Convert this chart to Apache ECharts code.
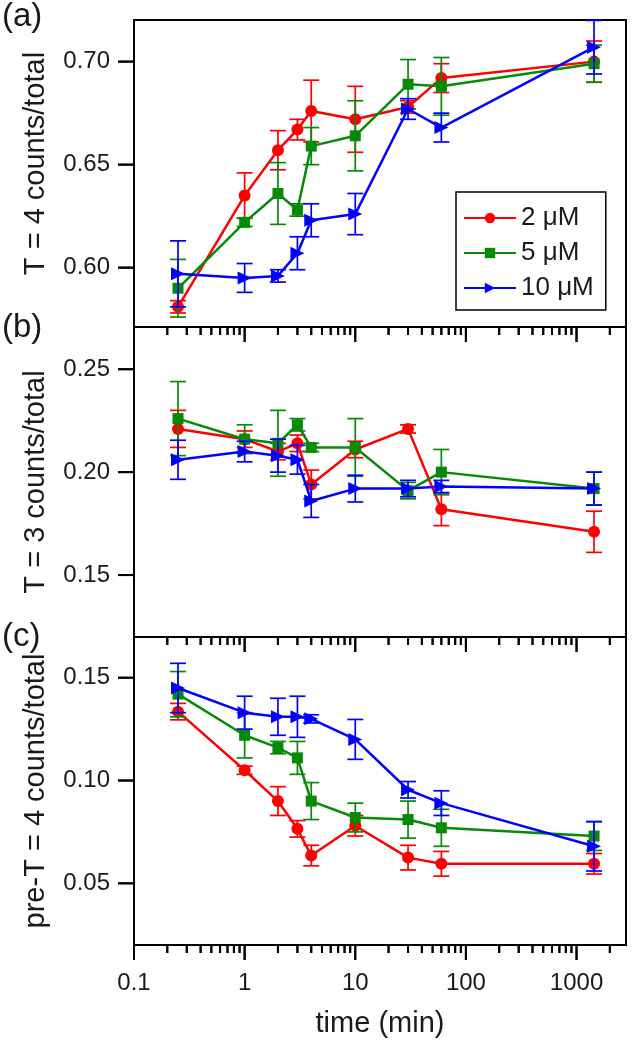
<!DOCTYPE html>
<html>
<head>
<meta charset="utf-8">
<script src="https://cdn.jsdelivr.net/npm/echarts@6/dist/echarts.min.js"></script>
<style>
html,body{margin:0;padding:0;background:#fff;}
#chart{width:639px;height:1050px;}
</style>
</head>
<body>
<div id="chart"></div>
<script>
// ---- data ----
const times = [0.25, 1, 2, 3, 4, 10, 30, 60, 1440];
const seriesNames = ['2 μM', '5 μM', '10 μM'];

// panel (a): T = 4 counts/total
const a_2uM  = [0.581, 0.635, 0.657, 0.667, 0.676, 0.672, 0.678, 0.692, 0.700];
const a_2uM_err = [0.003, 0.011, 0.0095, 0.005, 0.015, 0.016, 0.003, 0.007, 0.010];
const a_5uM  = [0.590, 0.622, 0.636, 0.628, 0.659, 0.664, 0.689, 0.688, 0.699];
const a_5uM_err = [0.014, 0.002, 0.015, 0.003, 0.009, 0.017, 0.012, 0.014, 0.009];
const a_10uM = [0.597, 0.595, 0.596, 0.607, 0.623, 0.626, 0.677, 0.668, 0.707];
const a_10uM_err = [0.016, 0.007, 0.003, 0.008, 0.008, 0.010, 0.005, 0.007, 0.013];

// panel (b): T = 3 counts/total
const b_2uM  = [0.221, 0.216, 0.210, 0.214, 0.194, 0.211, 0.221, 0.182, 0.171];
const b_2uM_err = [0.009, 0.004, 0.004, 0.004, 0.007, 0.004, 0.002, 0.008, 0.010];
const b_5uM  = [0.226, 0.216, 0.214, 0.223, 0.212, 0.212, 0.191, 0.200, 0.192];
const b_5uM_err = [0.018, 0.007, 0.016, 0.003, 0.002, 0.014, 0.004, 0.011, 0.008];
const b_10uM = [0.206, 0.210, 0.208, 0.206, 0.186, 0.192, 0.192, 0.193, 0.192];
const b_10uM_err = [0.0095, 0.005, 0.008, 0.007, 0.008, 0.0065, 0.004, 0.003, 0.008];

// panel (c): pre-T = 4 counts/total
const c_2uM  = [0.1335, 0.105, 0.090, 0.0765, 0.0635, 0.078, 0.0625, 0.0595, 0.0595];
const c_2uM_err = [0.004, 0.002, 0.007, 0.004, 0.005, 0.005, 0.006, 0.006, 0.005];
const c_5uM  = [0.142, 0.122, 0.116, 0.111, 0.090, 0.082, 0.081, 0.077, 0.073];
const c_5uM_err = [0.011, 0.011, 0.003, 0.008, 0.009, 0.007, 0.009, 0.009, 0.007];
const c_10uM = [0.145, 0.133, 0.131, 0.131, 0.130, 0.120, 0.0955, 0.089, 0.068];
const c_10uM_err = [0.012, 0.008, 0.009, 0.010, 0.002, 0.0097, 0.004, 0.006, 0.012];

// axes
const xMajorTicks = [0.1, 1, 10, 100, 1000];
const xMinorTicks = [0.2,0.3,0.4,0.5,0.6,0.7,0.8,0.9, 2,3,4,5,6,7,8,9, 20,30,40,50,60,70,80,90, 200,300,400,500,600,700,800,900, 2000];
const yTicksA = [0.60, 0.65, 0.70];
const yTicksB = [0.15, 0.20, 0.25];
const yTicksC = [0.05, 0.10, 0.15];
const yTitles = ['T = 4 counts/total', 'T = 3 counts/total', 'pre-T = 4 counts/total'];
const panelLabels = ['(a)', '(b)', '(c)'];
const xTitle = 'time (min)';

// ---- chart ----
const colors = ['#ff0000', '#078a07', '#0000ff'];
const FONT = 'Liberation Sans, Arial, sans-serif';
const TXT = '#1a1a1a';
const triPath = 'path://M0,0 L12,6 L0,12 Z';
const symbols = ['circle', 'rect', triPath];
const symSizes = [12, 11, [14, 13]];

const gridTops = [20, 327, 637];
const gridHeights = [307, 310, 308];
const yRanges = [[0.5712, 0.7202], [0.1199, 0.2705], [0.0200, 0.1698]];
const yTicks = [yTicksA, yTicksB, yTicksC];
const titlePad = [[0, 0, 0, 20], [0, 0, 0, 0], [0, 0, 0, 0]];
const panelData = [
  [[a_2uM, a_2uM_err], [a_5uM, a_5uM_err], [a_10uM, a_10uM_err]],
  [[b_2uM, b_2uM_err], [b_5uM, b_5uM_err], [b_10uM, b_10uM_err]],
  [[c_2uM, c_2uM_err], [c_5uM, c_5uM_err], [c_10uM, c_10uM_err]]
];
const XMIN = 0.1, XMAX = 2800;

const grids = [], xAxes = [], yAxes = [], series = [];
for (let p = 0; p < 3; p++) {
  grids.push({left: 134, right: 13, top: gridTops[p], height: gridHeights[p],
    show: true, borderColor: '#000', borderWidth: 2, backgroundColor: 'transparent'});
  const last = p === 2;
  xAxes.push({
    type: 'log', logBase: 10, gridIndex: p, min: XMIN, max: XMAX, position: 'bottom',
    name: last ? xTitle : '', nameLocation: 'middle', nameGap: 64, nameMoveOverlap: false,
    nameTextStyle: {fontFamily: FONT, fontSize: 29, color: TXT},
    axisLine: {show: true, onZero: false, lineStyle: {color: '#000', width: 2}},
    axisTick: {show: false},
    axisLabel: {show: last, customValues: xMajorTicks, margin: 26, fontFamily: FONT, fontSize: 24, color: TXT,
      formatter: v => (v < 1 ? String(+v.toFixed(1)) : String(Math.round(v)))},
    splitLine: {show: false}, minorTick: {show: false}
  });
  yAxes.push({
    type: 'value', gridIndex: p, min: yRanges[p][0], max: yRanges[p][1],
    name: yTitles[p], nameLocation: 'middle', nameGap: 84, nameRotate: 90,
    nameTextStyle: {fontFamily: FONT, fontSize: 29, color: TXT, padding: titlePad[p]},
    axisLine: {show: true, lineStyle: {color: '#000', width: 2}},
    axisTick: {show: false},
    axisLabel: {customValues: yTicks[p], margin: 24, fontFamily: FONT, fontSize: 24, color: TXT,
      formatter: v => v.toFixed(2)},
    splitLine: {show: false}
  });

  // axis ticks drawn through the axis scales (low z so they are painted early)
  const xt = xMajorTicks.map(v => [v, yRanges[p][0], 15]).concat(xMinorTicks.map(v => [v, yRanges[p][0], 8]));
  series.push({
    type: 'custom', name: 'xticks' + p, xAxisIndex: p, yAxisIndex: p, clip: false, silent: true, z: 1,
    data: xt, encode: {x: 0, y: 1},
    renderItem: function (params, api) {
      const pt = api.coord([api.value(0), api.value(1)]);
      const len = api.value(2);
      return {type: 'line', shape: {x1: pt[0], y1: pt[1], x2: pt[0], y2: pt[1] + len},
        style: {stroke: '#000', lineWidth: 2}};
    }
  });
  series.push({
    type: 'custom', name: 'yticks' + p, xAxisIndex: p, yAxisIndex: p, clip: false, silent: true, z: 1,
    data: yTicks[p].map(v => [XMIN, v]), encode: {x: 0, y: 1},
    renderItem: function (params, api) {
      const pt = api.coord([api.value(0), api.value(1)]);
      return {type: 'line', shape: {x1: pt[0] - 16, y1: pt[1], x2: pt[0], y2: pt[1]},
        style: {stroke: '#000', lineWidth: 2}};
    }
  });

  for (let s = 0; s < 3; s++) {
    const vals = panelData[p][s][0], errs = panelData[p][s][1];
    const color = colors[s];
    series.push({
      type: 'custom', name: seriesNames[s] + ' err' + p,
      xAxisIndex: p, yAxisIndex: p, clip: false, silent: true, z: 2 + s * 2,
      data: times.map((t, i) => [t, vals[i] - errs[i], vals[i] + errs[i]]),
      encode: {x: 0, y: [1, 2]},
      renderItem: function (params, api) {
        const x = api.value(0);
        const lo = api.coord([x, api.value(1)]);
        const hi = api.coord([x, api.value(2)]);
        const w = 8;
        const st = {stroke: color, lineWidth: 1.7, fill: null};
        return {type: 'group', children: [
          {type: 'line', shape: {x1: lo[0], y1: lo[1], x2: hi[0], y2: hi[1]}, style: st},
          {type: 'line', shape: {x1: lo[0] - w, y1: lo[1], x2: lo[0] + w, y2: lo[1]}, style: st},
          {type: 'line', shape: {x1: hi[0] - w, y1: hi[1], x2: hi[0] + w, y2: hi[1]}, style: st}
        ]};
      }
    });
    series.push({
      type: 'line', name: seriesNames[s], xAxisIndex: p, yAxisIndex: p, z: 3 + s * 2,
      data: times.map((t, i) => [t, vals[i]]),
      symbol: symbols[s], symbolSize: symSizes[s], showSymbol: true,
      lineStyle: {color: color, width: 2.5},
      itemStyle: {color: color, borderWidth: 0},
      animation: false
    });
  }
}

const labelGraphics = panelLabels.map((t, i) => ({
  type: 'text', left: 2, top: [0, 311, 620][i],
  style: {text: t, fontFamily: FONT, fontSize: 33, fill: TXT}
}));

const chart = echarts.init(document.getElementById('chart'), null, {renderer: 'canvas'});
chart.setOption({
  animation: false,
  backgroundColor: '#fff',
  grid: grids,
  xAxis: xAxes,
  yAxis: yAxes,
  legend: {
    data: seriesNames, orient: 'vertical', left: 456, top: 192,
    itemWidth: 52, itemHeight: 13, itemGap: 9,
    padding: [13, 12, 9, 7],
    borderColor: '#000', borderWidth: 1.5, backgroundColor: '#fff',
    textStyle: {fontFamily: FONT, fontSize: 26, color: TXT},
    selectedMode: false
  },
  graphic: labelGraphics,
  series: series
});

// backup tick marks as graphic elements, positioned through the axes' own scales
const tickEls = [];
const tickStyle = {stroke: '#000', lineWidth: 2};
for (let p = 0; p < 3; p++) {
  const finder = {gridIndex: p};
  const addX = (v, len) => {
    const pt = chart.convertToPixel(finder, [v, yRanges[p][0]]);
    tickEls.push({type: 'line', silent: true, z: 1,
      shape: {x1: pt[0], y1: pt[1], x2: pt[0], y2: pt[1] + len}, style: tickStyle});
  };
  xMajorTicks.forEach(v => addX(v, 15));
  xMinorTicks.forEach(v => addX(v, 8));
  yTicks[p].forEach(v => {
    const pt = chart.convertToPixel(finder, [XMIN, v]);
    tickEls.push({type: 'line', silent: true, z: 1,
      shape: {x1: pt[0] - 16, y1: pt[1], x2: pt[0], y2: pt[1]}, style: tickStyle});
  });
}
chart.setOption({graphic: labelGraphics.concat(tickEls)});
</script>
</body>
</html>
